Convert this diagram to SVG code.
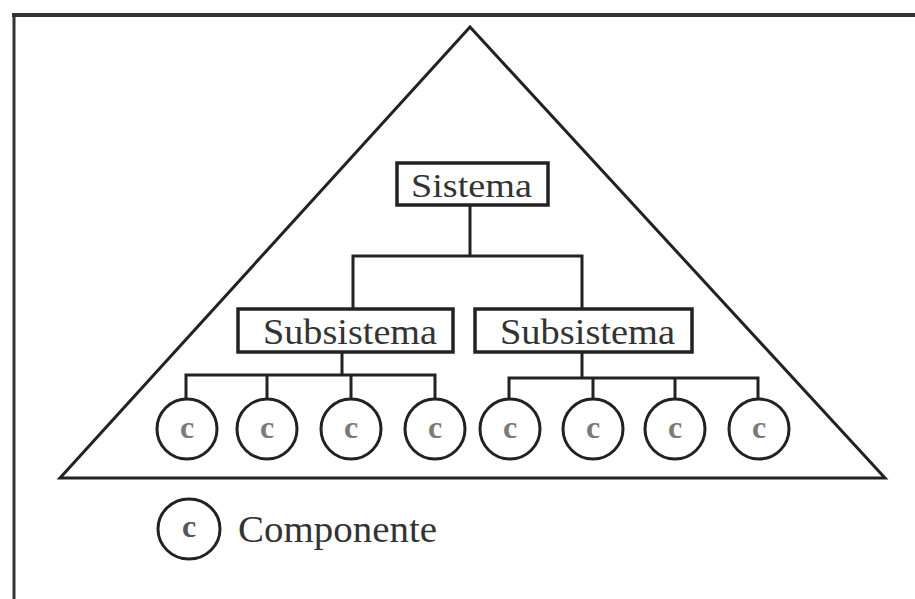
<svg xmlns="http://www.w3.org/2000/svg" width="915" height="599" viewBox="0 0 915 599">
<style>
.ln{stroke:#222;stroke-width:3;fill:none}
.box{fill:#fff;stroke:#222;stroke-width:3.5}
.cir{fill:#fff;stroke:#222;stroke-width:3}
.t{font-family:"Liberation Serif","Times New Roman",serif;fill:#333}
.c{font-family:"Liberation Serif","Times New Roman",serif;fill:#7a7a7a;font-size:32px;text-anchor:middle;font-weight:bold}
</style>
<rect width="915" height="599" fill="#fff"/>
<g id="frame">
<line x1="12" y1="15" x2="915" y2="15" stroke="#333" stroke-width="4"/>
<line x1="14" y1="13" x2="14" y2="599" stroke="#333" stroke-width="3"/>
</g>
<g id="pyramid">
<polygon points="470,27 60,478 885,478" class="ln"/>
</g>
<g id="connectors" class="ln">
<line x1="470" y1="205" x2="470" y2="256"/>
<polyline points="353,309 353,256 582,256 582,309"/>
<line x1="342" y1="352" x2="342" y2="375"/>
<polyline points="186,400 186,375 435,375 435,400"/>
<line x1="267" y1="375" x2="267" y2="400"/>
<line x1="351" y1="375" x2="351" y2="400"/>
<line x1="582" y1="352" x2="582" y2="378"/>
<polyline points="509,400 509,378 758,378 758,400"/>
<line x1="593" y1="378" x2="593" y2="400"/>
<line x1="675" y1="378" x2="675" y2="400"/>
</g>
<g id="sistema">
<rect x="397" y="163" width="151" height="42" class="box"/>
<text x="411" y="197" class="t" font-size="34" textLength="121" lengthAdjust="spacingAndGlyphs">Sistema</text>
</g>
<g id="subsistema1">
<rect x="238" y="309" width="215" height="43" class="box"/>
<text x="263" y="344" class="t" font-size="36" textLength="174" lengthAdjust="spacingAndGlyphs">Subsistema</text>
</g>
<g id="subsistema2">
<rect x="475" y="309" width="217" height="43" class="box"/>
<text x="500" y="344" class="t" font-size="36" textLength="175" lengthAdjust="spacingAndGlyphs">Subsistema</text>
</g>
<g id="c1"><circle cx="187" cy="429" r="30" class="cir"/><text x="187" y="438" class="c">c</text></g>
<g id="c2"><circle cx="267" cy="429" r="30" class="cir"/><text x="267" y="438" class="c">c</text></g>
<g id="c3"><circle cx="351" cy="429" r="30" class="cir"/><text x="351" y="438" class="c">c</text></g>
<g id="c4"><circle cx="435" cy="429" r="30" class="cir"/><text x="435" y="438" class="c">c</text></g>
<g id="c5"><circle cx="510" cy="429" r="30" class="cir"/><text x="510" y="438" class="c">c</text></g>
<g id="c6"><circle cx="593" cy="429" r="30" class="cir"/><text x="593" y="438" class="c">c</text></g>
<g id="c7"><circle cx="675" cy="429" r="30" class="cir"/><text x="675" y="438" class="c">c</text></g>
<g id="c8"><circle cx="759" cy="429" r="30" class="cir"/><text x="759" y="438" class="c">c</text></g>
<g id="legend">
<ellipse cx="189" cy="529" rx="31" ry="30" class="cir"/>
<text x="189" y="537" class="c" style="fill:#555">c</text>
<text x="238" y="542" class="t" font-size="38" textLength="199" lengthAdjust="spacingAndGlyphs">Componente</text>
</g>
</svg>
